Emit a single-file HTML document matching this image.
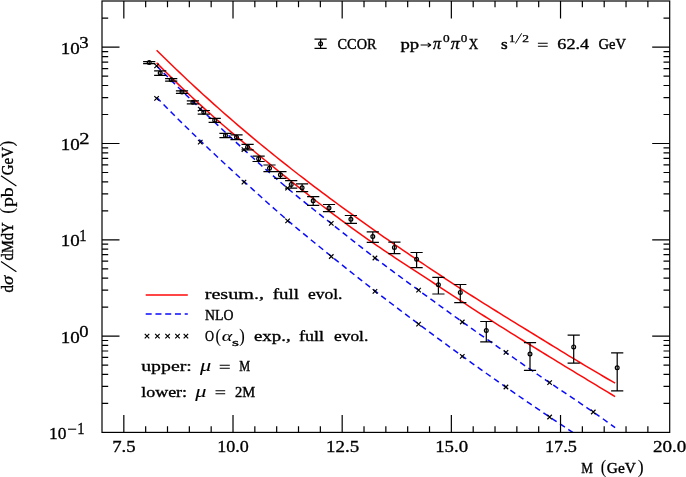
<!DOCTYPE html>
<html><head><meta charset="utf-8"><title>chart</title>
<style>html,body{margin:0;padding:0;background:#fff;}svg{display:block;}svg{will-change:transform;}text{font-kerning:none;}</style></head>
<body>
<svg width="686" height="477" viewBox="0 0 686 477">
<rect x="0" y="0" width="686" height="477" fill="#ffffff"/>
<clipPath id="cp"><rect x="102.00" y="1.00" width="567.70" height="431.40"/></clipPath>
<g clip-path="url(#cp)" fill="none" stroke-width="1.5">
<path d="M156.59 65.90L160.44 69.73L164.29 73.55L168.15 77.35L172.00 81.14L175.85 84.92L179.71 88.69L183.56 92.44L187.41 96.19L191.27 99.92L195.12 103.64L198.97 107.34L202.82 111.03L206.68 114.71L210.53 118.38L214.38 122.03L218.24 125.67L222.09 129.29L225.94 132.91L229.80 136.50L233.65 140.09L237.50 143.66L241.36 147.22L245.21 150.76L249.06 154.29L252.92 157.80L256.77 161.29L260.62 164.76L264.48 168.20L268.33 171.62L272.18 175.02L276.03 178.38L279.89 181.71L283.74 185.01L287.59 188.26L291.45 191.49L295.30 194.67L299.15 197.83L303.01 200.96L306.86 204.06L310.71 207.15L314.57 210.22L318.42 213.28L322.27 216.34L326.13 219.39L329.98 222.44L333.83 225.50L337.69 228.56L341.54 231.63L345.39 234.69L349.24 237.75L353.10 240.81L356.95 243.85L360.80 246.88L364.66 249.90L368.51 252.90L372.36 255.88L376.22 258.83L380.07 261.76L383.92 264.67L387.78 267.56L391.63 270.43L395.48 273.28L399.34 276.12L403.19 278.96L407.04 281.78L410.90 284.60L414.75 287.41L418.60 290.23L422.46 293.04L426.31 295.85L430.16 298.67L434.01 301.48L437.87 304.29L441.72 307.09L445.57 309.88L449.43 312.67L453.28 315.45L457.13 318.22L460.99 320.98L464.84 323.72L468.69 326.46L472.55 329.18L476.40 331.89L480.25 334.59L484.11 337.29L487.96 339.98L491.81 342.66L495.67 345.35L499.52 348.03L503.37 350.71L507.22 353.39L511.08 356.07L514.93 358.75L518.78 361.43L522.64 364.11L526.49 366.78L530.34 369.44L534.20 372.10L538.05 374.75L541.90 377.39L545.76 380.01L549.61 382.62L553.46 385.22L557.32 387.81L561.17 390.39L565.02 392.96L568.88 395.53L572.73 398.11L576.58 400.70L580.43 403.29L584.29 405.90L588.14 408.52L591.99 411.17L595.85 413.84L599.70 416.53L603.55 419.26L607.41 422.03L611.26 424.83L615.11 427.68" stroke="#0a0aff" stroke-dasharray="5.9 4.1"/>
<path d="M156.59 97.36L160.44 101.32L164.29 105.26L168.15 109.16L172.00 113.04L175.85 116.89L179.71 120.71L183.56 124.50L187.41 128.27L191.27 132.02L195.12 135.74L198.97 139.44L202.82 143.12L206.68 146.78L210.53 150.42L214.38 154.05L218.24 157.66L222.09 161.25L225.94 164.83L229.80 168.39L233.65 171.95L237.50 175.49L241.36 179.02L245.21 182.55L249.06 186.07L252.92 189.57L256.77 193.06L260.62 196.54L264.48 200.00L268.33 203.44L272.18 206.86L276.03 210.26L279.89 213.63L283.74 216.98L287.59 220.29L291.45 223.58L295.30 226.83L299.15 230.06L303.01 233.26L306.86 236.45L310.71 239.61L314.57 242.76L318.42 245.89L322.27 249.01L326.13 252.13L329.98 255.23L333.83 258.33L337.69 261.43L341.54 264.52L345.39 267.60L349.24 270.68L353.10 273.75L356.95 276.81L360.80 279.86L364.66 282.89L368.51 285.92L372.36 288.93L376.22 291.92L380.07 294.90L383.92 297.87L387.78 300.83L391.63 303.77L395.48 306.70L399.34 309.61L403.19 312.52L407.04 315.42L410.90 318.31L414.75 321.19L418.60 324.06L422.46 326.93L426.31 329.79L430.16 332.64L434.01 335.49L437.87 338.32L441.72 341.16L445.57 343.98L449.43 346.80L453.28 349.60L457.13 352.40L460.99 355.20L464.84 357.98L468.69 360.75L472.55 363.52L476.40 366.28L480.25 369.03L484.11 371.77L487.96 374.50L491.81 377.22L495.67 379.93L499.52 382.64L503.37 385.33L507.22 388.01L511.08 390.68L514.93 393.35L518.78 396.00L522.64 398.65L526.49 401.28L530.34 403.91L534.20 406.54L538.05 409.15L541.90 411.76L545.76 414.36L549.61 416.96L553.46 419.55L557.32 422.13L561.17 424.71L565.02 427.29L568.88 429.86L572.73 432.42L576.58 434.98L580.43 437.53L584.29 440.08L588.14 442.63L591.99 445.16L595.85 447.70L599.70 450.23L603.55 452.75L607.41 455.27L611.26 457.79L615.11 460.30" stroke="#0a0aff" stroke-dasharray="5.9 4.1"/>
<path d="M156.59 50.18L160.44 53.99L164.29 57.78L168.15 61.54L172.00 65.27L175.85 68.98L179.71 72.66L183.56 76.31L187.41 79.94L191.27 83.54L195.12 87.11L198.97 90.66L202.82 94.18L206.68 97.68L210.53 101.16L214.38 104.61L218.24 108.04L222.09 111.44L225.94 114.82L229.80 118.17L233.65 121.51L237.50 124.82L241.36 128.11L245.21 131.38L249.06 134.62L252.92 137.85L256.77 141.05L260.62 144.23L264.48 147.39L268.33 150.54L272.18 153.66L276.03 156.76L279.89 159.84L283.74 162.91L287.59 165.95L291.45 168.98L295.30 171.99L299.15 174.98L303.01 177.96L306.86 180.91L310.71 183.85L314.57 186.78L318.42 189.69L322.27 192.58L326.13 195.46L329.98 198.32L333.83 201.17L337.69 204.00L341.54 206.82L345.39 209.63L349.24 212.42L353.10 215.20L356.95 217.97L360.80 220.73L364.66 223.47L368.51 226.20L372.36 228.92L376.22 231.63L380.07 234.33L383.92 237.02L387.78 239.70L391.63 242.37L395.48 245.03L399.34 247.68L403.19 250.33L407.04 252.96L410.90 255.59L414.75 258.20L418.60 260.81L422.46 263.41L426.31 266.00L430.16 268.58L434.01 271.15L437.87 273.71L441.72 276.25L445.57 278.79L449.43 281.32L453.28 283.84L457.13 286.34L460.99 288.83L464.84 291.32L468.69 293.79L472.55 296.25L476.40 298.69L480.25 301.13L484.11 303.55L487.96 305.96L491.81 308.36L495.67 310.75L499.52 313.14L503.37 315.52L507.22 317.90L511.08 320.27L514.93 322.64L518.78 325.02L522.64 327.39L526.49 329.76L530.34 332.14L534.20 334.51L538.05 336.89L541.90 339.26L545.76 341.63L549.61 344.00L553.46 346.36L557.32 348.72L561.17 351.08L565.02 353.43L568.88 355.77L572.73 358.11L576.58 360.44L580.43 362.76L584.29 365.07L588.14 367.38L591.99 369.67L595.85 371.95L599.70 374.22L603.55 376.48L607.41 378.73L611.26 380.96L615.11 383.17" stroke="#ff0808"/>
<path d="M156.59 62.70L160.44 66.62L164.29 70.49L168.15 74.33L172.00 78.12L175.85 81.87L179.71 85.59L183.56 89.26L187.41 92.90L191.27 96.51L195.12 100.08L198.97 103.61L202.82 107.12L206.68 110.59L210.53 114.04L214.38 117.45L218.24 120.84L222.09 124.20L225.94 127.54L229.80 130.85L233.65 134.14L237.50 137.40L241.36 140.65L245.21 143.88L249.06 147.09L252.92 150.28L256.77 153.46L260.62 156.62L264.48 159.76L268.33 162.90L272.18 166.02L276.03 169.14L279.89 172.24L283.74 175.34L287.59 178.42L291.45 181.50L295.30 184.57L299.15 187.63L303.01 190.67L306.86 193.71L310.71 196.73L314.57 199.74L318.42 202.74L322.27 205.72L326.13 208.68L329.98 211.63L333.83 214.56L337.69 217.47L341.54 220.36L345.39 223.22L349.24 226.06L353.10 228.87L356.95 231.66L360.80 234.41L364.66 237.13L368.51 239.82L372.36 242.48L376.22 245.13L380.07 247.74L383.92 250.34L387.78 252.92L391.63 255.49L395.48 258.04L399.34 260.58L403.19 263.11L407.04 265.64L410.90 268.16L414.75 270.68L418.60 273.19L422.46 275.71L426.31 278.22L430.16 280.73L434.01 283.25L437.87 285.77L441.72 288.29L445.57 290.82L449.43 293.36L453.28 295.89L457.13 298.43L460.99 300.96L464.84 303.49L468.69 306.01L472.55 308.52L476.40 311.03L480.25 313.52L484.11 316.00L487.96 318.46L491.81 320.92L495.67 323.37L499.52 325.80L503.37 328.23L507.22 330.64L511.08 333.05L514.93 335.45L518.78 337.85L522.64 340.24L526.49 342.63L530.34 345.01L534.20 347.39L538.05 349.76L541.90 352.13L545.76 354.50L549.61 356.86L553.46 359.22L557.32 361.57L561.17 363.92L565.02 366.27L568.88 368.61L572.73 370.95L576.58 373.29L580.43 375.63L584.29 377.96L588.14 380.29L591.99 382.62L595.85 384.95L599.70 387.27L603.55 389.60L607.41 391.92L611.26 394.24L615.11 396.56" stroke="#ff0808"/>
</g>
<g stroke="#000" stroke-width="1.2" fill="none">
<path d="M154.34 63.65L158.84 68.15M154.34 68.15L158.84 63.65M198.01 106.85L202.51 111.35M198.01 111.35L202.51 106.85M241.68 147.45L246.18 151.95M241.68 151.95L246.18 147.45M285.34 185.95L289.84 190.45M285.34 190.45L289.84 185.95M329.01 221.05L333.51 225.55M329.01 225.55L333.51 221.05M372.68 255.75L377.18 260.25M372.68 260.25L377.18 255.75M416.35 287.85L420.85 292.35M416.35 292.35L420.85 287.85M460.02 319.75L464.52 324.25M460.02 324.25L464.52 319.75M503.69 350.15L508.19 354.65M503.69 354.65L508.19 350.15M547.36 380.45L551.86 384.95M547.36 384.95L551.86 380.45M591.03 409.75L595.53 414.25M591.03 414.25L595.53 409.75M154.34 96.05L158.84 100.55M154.34 100.55L158.84 96.05M198.01 139.85L202.51 144.35M198.01 144.35L202.51 139.85M241.68 179.85L246.18 184.35M241.68 184.35L246.18 179.85M285.34 218.55L289.84 223.05M285.34 223.05L289.84 218.55M329.01 254.25L333.51 258.75M329.01 258.75L333.51 254.25M372.68 289.15L377.18 293.65M372.68 293.65L377.18 289.15M416.35 321.85L420.85 326.35M416.35 326.35L420.85 321.85M460.02 354.05L464.52 358.55M460.02 358.55L464.52 354.05M503.69 384.75L508.19 389.25M503.69 389.25L508.19 384.75M547.36 414.75L551.86 419.25M547.36 419.25L551.86 414.75M144.75 333.85L149.25 338.35M144.75 338.35L149.25 333.85M155.15 333.85L159.65 338.35M155.15 338.35L159.65 333.85M165.35 333.85L169.85 338.35M165.35 338.35L169.85 333.85M175.25 333.85L179.75 338.35M175.25 338.35L179.75 333.85M183.65 333.85L188.15 338.35M183.65 338.35L188.15 333.85"/>
</g>
<g stroke="#000" stroke-width="1.22" fill="none">
<path d="M149.20 61.55V63.65M143.10 61.55H155.30M143.10 63.65H155.30M160.20 70.80V75.30M154.10 70.80H166.30M154.10 75.30H166.30M171.20 78.60V81.20M165.10 78.60H177.30M165.10 81.20H177.30M182.00 90.80V93.40M175.90 90.80H188.10M175.90 93.40H188.10M192.90 100.80V103.80M186.80 100.80H199.00M186.80 103.80H199.00M203.80 110.50V114.10M197.70 110.50H209.90M197.70 114.10H209.90M214.70 118.30V122.30M208.60 118.30H220.80M208.60 122.30H220.80M225.50 133.40V137.70M219.40 133.40H231.60M219.40 137.70H231.60M236.50 134.90V139.70M230.40 134.90H242.60M230.40 139.70H242.60M247.60 144.30V149.80M241.50 144.30H253.70M241.50 149.80H253.70M258.60 156.20V161.50M252.50 156.20H264.70M252.50 161.50H264.70M269.50 165.00V171.60M263.40 165.00H275.60M263.40 171.60H275.60M280.40 171.60V178.30M274.30 171.60H286.50M274.30 178.30H286.50M291.20 180.70V188.20M285.10 180.70H297.30M285.10 188.20H297.30M302.10 183.90V191.60M296.00 183.90H308.20M296.00 191.60H308.20M313.20 196.60V205.30M307.10 196.60H319.30M307.10 205.30H319.30M329.00 204.50V211.70M322.90 204.50H335.10M322.90 211.70H335.10M350.90 215.50V223.40M344.80 215.50H357.00M344.80 223.40H357.00M372.80 231.90V242.40M366.70 231.90H378.90M366.70 242.40H378.90M394.40 242.20V253.60M388.30 242.20H400.50M388.30 253.60H400.50M416.60 252.50V267.60M410.50 252.50H422.70M410.50 267.60H422.70M438.40 277.30V294.00M432.30 277.30H444.50M432.30 294.00H444.50M460.30 284.50V302.70M454.20 284.50H466.40M454.20 302.70H466.40M486.30 321.50V341.90M480.20 321.50H492.40M480.20 341.90H492.40M530.00 342.60V370.40M523.90 342.60H536.10M523.90 370.40H536.10M573.70 335.20V363.20M567.60 335.20H579.80M567.60 363.20H579.80M617.20 352.80V390.90M611.10 352.80H623.30M611.10 390.90H623.30M320.60 39.10V48.40M314.50 39.10H326.70M314.50 48.40H326.70"/>
<circle cx="149.20" cy="62.60" r="1.9"/>
<circle cx="160.20" cy="73.00" r="1.9"/>
<circle cx="171.20" cy="79.80" r="1.9"/>
<circle cx="182.00" cy="92.10" r="1.9"/>
<circle cx="192.90" cy="102.30" r="1.9"/>
<circle cx="203.80" cy="112.30" r="1.9"/>
<circle cx="214.70" cy="120.20" r="1.9"/>
<circle cx="225.50" cy="135.50" r="1.9"/>
<circle cx="236.50" cy="137.20" r="1.9"/>
<circle cx="247.60" cy="147.10" r="1.9"/>
<circle cx="258.60" cy="158.80" r="1.9"/>
<circle cx="269.50" cy="168.20" r="1.9"/>
<circle cx="280.40" cy="174.70" r="1.9"/>
<circle cx="291.20" cy="184.40" r="1.9"/>
<circle cx="302.10" cy="187.70" r="1.9"/>
<circle cx="313.20" cy="200.80" r="1.9"/>
<circle cx="329.00" cy="208.00" r="1.9"/>
<circle cx="350.90" cy="219.20" r="1.9"/>
<circle cx="372.80" cy="236.50" r="1.9"/>
<circle cx="394.40" cy="247.40" r="1.9"/>
<circle cx="416.60" cy="259.20" r="1.9"/>
<circle cx="438.40" cy="284.80" r="1.9"/>
<circle cx="460.30" cy="292.40" r="1.9"/>
<circle cx="486.30" cy="330.50" r="1.9"/>
<circle cx="530.00" cy="354.00" r="1.9"/>
<circle cx="573.70" cy="346.90" r="1.9"/>
<circle cx="617.20" cy="367.70" r="1.9"/>
<circle cx="320.60" cy="43.80" r="1.9"/>
</g>
<g stroke="#000" stroke-width="1.20" fill="none" stroke-linecap="butt">
<rect x="102.00" y="1.00" width="567.70" height="431.40"/>
<path d="M123.83 432.40V414.90M123.83 1.00V18.50M145.67 432.40V426.20M145.67 1.00V7.20M167.50 432.40V426.20M167.50 1.00V7.20M189.34 432.40V426.20M189.34 1.00V7.20M211.17 432.40V426.20M211.17 1.00V7.20M233.01 432.40V414.90M233.01 1.00V18.50M254.84 432.40V426.20M254.84 1.00V7.20M276.68 432.40V426.20M276.68 1.00V7.20M298.51 432.40V426.20M298.51 1.00V7.20M320.35 432.40V426.20M320.35 1.00V7.20M342.18 432.40V414.90M342.18 1.00V18.50M364.02 432.40V426.20M364.02 1.00V7.20M385.85 432.40V426.20M385.85 1.00V7.20M407.68 432.40V426.20M407.68 1.00V7.20M429.52 432.40V426.20M429.52 1.00V7.20M451.35 432.40V414.90M451.35 1.00V18.50M473.19 432.40V426.20M473.19 1.00V7.20M495.02 432.40V426.20M495.02 1.00V7.20M516.86 432.40V426.20M516.86 1.00V7.20M538.69 432.40V426.20M538.69 1.00V7.20M560.53 432.40V414.90M560.53 1.00V18.50M582.36 432.40V426.20M582.36 1.00V7.20M604.20 432.40V426.20M604.20 1.00V7.20M626.03 432.40V426.20M626.03 1.00V7.20M647.87 432.40V426.20M647.87 1.00V7.20M102.00 403.41H108.20M669.70 403.41H663.50M102.00 386.45H108.20M669.70 386.45H663.50M102.00 374.42H108.20M669.70 374.42H663.50M102.00 365.09H108.20M669.70 365.09H663.50M102.00 357.46H108.20M669.70 357.46H663.50M102.00 351.02H108.20M669.70 351.02H663.50M102.00 345.43H108.20M669.70 345.43H663.50M102.00 340.51H108.20M669.70 340.51H663.50M102.00 336.10H119.50M669.70 336.10H652.20M102.00 307.11H108.20M669.70 307.11H663.50M102.00 290.15H108.20M669.70 290.15H663.50M102.00 278.12H108.20M669.70 278.12H663.50M102.00 268.79H108.20M669.70 268.79H663.50M102.00 261.16H108.20M669.70 261.16H663.50M102.00 254.72H108.20M669.70 254.72H663.50M102.00 249.13H108.20M669.70 249.13H663.50M102.00 244.21H108.20M669.70 244.21H663.50M102.00 239.80H119.50M669.70 239.80H652.20M102.00 210.81H108.20M669.70 210.81H663.50M102.00 193.85H108.20M669.70 193.85H663.50M102.00 181.82H108.20M669.70 181.82H663.50M102.00 172.49H108.20M669.70 172.49H663.50M102.00 164.86H108.20M669.70 164.86H663.50M102.00 158.42H108.20M669.70 158.42H663.50M102.00 152.83H108.20M669.70 152.83H663.50M102.00 147.91H108.20M669.70 147.91H663.50M102.00 143.50H119.50M669.70 143.50H652.20M102.00 114.51H108.20M669.70 114.51H663.50M102.00 97.55H108.20M669.70 97.55H663.50M102.00 85.52H108.20M669.70 85.52H663.50M102.00 76.19H108.20M669.70 76.19H663.50M102.00 68.56H108.20M669.70 68.56H663.50M102.00 62.12H108.20M669.70 62.12H663.50M102.00 56.53H108.20M669.70 56.53H663.50M102.00 51.61H108.20M669.70 51.61H663.50M102.00 47.20H119.50M669.70 47.20H652.20M102.00 18.21H108.20M669.70 18.21H663.50"/>
</g>
<path d="M145.7 295.1H187.8" stroke="#ff0808" stroke-width="1.5" fill="none"/>
<path d="M145.7 313.9H187.8" stroke="#0a0aff" stroke-width="1.5" stroke-dasharray="6 3.75" fill="none"/>
<g font-family='"Liberation Serif", serif' fill="#000" stroke="#000">
<text x="112.29" y="452.40" textLength="23.36" lengthAdjust="spacingAndGlyphs" font-size="16.10" stroke-width="0.30">7.5</text>
<text x="217.27" y="452.40" textLength="31.55" lengthAdjust="spacingAndGlyphs" font-size="16.10" stroke-width="0.30">10.0</text>
<text x="325.99" y="452.40" textLength="33.17" lengthAdjust="spacingAndGlyphs" font-size="16.10" stroke-width="0.30">12.5</text>
<text x="435.20" y="452.40" textLength="32.85" lengthAdjust="spacingAndGlyphs" font-size="16.10" stroke-width="0.30">15.0</text>
<text x="544.95" y="452.40" textLength="31.88" lengthAdjust="spacingAndGlyphs" font-size="16.10" stroke-width="0.30">17.5</text>
<text x="652.94" y="452.40" textLength="33.32" lengthAdjust="spacingAndGlyphs" font-size="16.10" stroke-width="0.30">20.0</text>
<text x="60.89" y="53.80" textLength="18.97" lengthAdjust="spacingAndGlyphs" font-size="16.10" stroke-width="0.30">10</text>
<text x="79.25" y="48.10" textLength="9.40" lengthAdjust="spacingAndGlyphs" font-size="16.10" stroke-width="0.30">3</text>
<text x="60.89" y="150.10" textLength="18.97" lengthAdjust="spacingAndGlyphs" font-size="16.10" stroke-width="0.30">10</text>
<text x="79.28" y="144.40" textLength="10.25" lengthAdjust="spacingAndGlyphs" font-size="16.10" stroke-width="0.30">2</text>
<text x="60.89" y="246.40" textLength="18.97" lengthAdjust="spacingAndGlyphs" font-size="16.10" stroke-width="0.30">10</text>
<text x="79.35" y="240.70" textLength="7.32" lengthAdjust="spacingAndGlyphs" font-size="16.10" stroke-width="0.30">1</text>
<text x="60.89" y="342.70" textLength="18.97" lengthAdjust="spacingAndGlyphs" font-size="16.10" stroke-width="0.30">10</text>
<text x="79.36" y="337.00" textLength="9.29" lengthAdjust="spacingAndGlyphs" font-size="16.10" stroke-width="0.30">0</text>
<text x="49.12" y="439.00" textLength="17.37" lengthAdjust="spacingAndGlyphs" font-size="16.10" stroke-width="0.30">10</text>
<path d="M68.0 429.20H76.2" stroke-width="1.1" fill="none"/>
<text x="77.25" y="433.70" textLength="7.32" lengthAdjust="spacingAndGlyphs" font-size="16.10" stroke-width="0.30">1</text>
</g>
<g font-family='"Liberation Serif", serif' fill="#000" stroke="#000" stroke-width="0.3">
<text x="337.60" y="49.30" textLength="38.90" lengthAdjust="spacingAndGlyphs" font-size="15.50" stroke-width="0.40">CCOR</text>
<text x="400.50" y="49.00" textLength="18.70" lengthAdjust="spacingAndGlyphs" font-size="15.50" stroke-width="0.36">pp</text>
<path d="M420.6 45.0H430.4M427.7 42.9L430.7 45.0L427.7 47.1" stroke="#000" stroke-width="1.1" fill="none" stroke-linejoin="round"/>
<text x="432.92" y="49.10" textLength="8.19" lengthAdjust="spacingAndGlyphs" font-size="15.80" stroke-width="0.35" font-style="italic">π</text>
<text x="443.07" y="41.70" textLength="6.67" lengthAdjust="spacingAndGlyphs" font-size="9.80" stroke-width="0.25">0</text>
<text x="450.71" y="49.10" textLength="9.06" lengthAdjust="spacingAndGlyphs" font-size="15.80" stroke-width="0.35" font-style="italic">π</text>
<text x="460.88" y="41.70" textLength="6.55" lengthAdjust="spacingAndGlyphs" font-size="9.80" stroke-width="0.25">0</text>
<text x="468.70" y="49.30" textLength="9.50" lengthAdjust="spacingAndGlyphs" font-size="15.50" stroke-width="0.40">X</text>
<text x="500.90" y="49.30" textLength="6.70" lengthAdjust="spacingAndGlyphs" font-size="15.50" stroke-width="0.42">s</text>
<text x="508.92" y="41.60" textLength="6.34" lengthAdjust="spacingAndGlyphs" font-size="9.60" stroke-width="0.25">1</text>
<path d="M515.4 43.6L521.7 33.3" stroke-width="0.95" fill="none"/>
<text x="522.19" y="41.60" textLength="6.75" lengthAdjust="spacingAndGlyphs" font-size="9.60" stroke-width="0.25">2</text>
<path d="M537.9 43.20H547.7M537.9 46.30H547.7" stroke-width="1.05" fill="none"/>
<text x="557.30" y="49.30" textLength="31.80" lengthAdjust="spacingAndGlyphs" font-size="15.50" stroke-width="0.36">62.4</text>
<text x="598.40" y="49.30" textLength="27.60" lengthAdjust="spacingAndGlyphs" font-size="15.50" stroke-width="0.40">GeV</text>
<text x="204.70" y="298.90" textLength="59.30" lengthAdjust="spacingAndGlyphs" font-size="15.50" stroke-width="0.30">resum.,</text>
<text x="272.70" y="298.90" textLength="26.20" lengthAdjust="spacingAndGlyphs" font-size="15.50" stroke-width="0.36">full</text>
<text x="308.00" y="298.90" textLength="34.50" lengthAdjust="spacingAndGlyphs" font-size="15.50" stroke-width="0.36">evol.</text>
<text x="205.00" y="319.80" textLength="28.40" lengthAdjust="spacingAndGlyphs" font-size="15.50" stroke-width="0.40">NLO</text>
<text x="205.00" y="341.10" textLength="9.00" lengthAdjust="spacingAndGlyphs" font-size="15.50" stroke-width="0.40">O</text>
<text x="215.48" y="341.60" textLength="5.35" lengthAdjust="spacingAndGlyphs" font-size="18.30" stroke-width="0.10">(</text>
<text x="221.80" y="341.10" textLength="10.50" lengthAdjust="spacingAndGlyphs" font-size="15.50" stroke-width="0.08" font-style="italic">α</text>
<text x="232.09" y="345.90" textLength="6.92" lengthAdjust="spacingAndGlyphs" font-size="10.80" stroke-width="0.30">s</text>
<text x="239.20" y="341.60" textLength="5.51" lengthAdjust="spacingAndGlyphs" font-size="18.30" stroke-width="0.10">)</text>
<text x="254.00" y="341.30" textLength="36.60" lengthAdjust="spacingAndGlyphs" font-size="15.50" stroke-width="0.36">exp.,</text>
<text x="298.90" y="341.30" textLength="25.00" lengthAdjust="spacingAndGlyphs" font-size="15.50" stroke-width="0.36">full</text>
<text x="334.00" y="341.30" textLength="34.30" lengthAdjust="spacingAndGlyphs" font-size="15.50" stroke-width="0.36">evol.</text>
<text x="141.20" y="371.00" textLength="50.60" lengthAdjust="spacingAndGlyphs" font-size="15.50" stroke-width="0.30">upper:</text>
<text x="200.00" y="371.00" textLength="11.20" lengthAdjust="spacingAndGlyphs" font-size="17.30" stroke-width="0.08" font-style="italic">μ</text>
<path d="M219.7 365.20H229.8M219.7 368.30H229.8" stroke-width="1.05" fill="none"/>
<text x="239.20" y="371.00" textLength="10.90" lengthAdjust="spacingAndGlyphs" font-size="15.50" stroke-width="0.40">M</text>
<text x="141.20" y="396.60" textLength="45.90" lengthAdjust="spacingAndGlyphs" font-size="15.50" stroke-width="0.36">lower:</text>
<text x="195.30" y="396.60" textLength="11.20" lengthAdjust="spacingAndGlyphs" font-size="17.30" stroke-width="0.08" font-style="italic">μ</text>
<path d="M215.5 390.70H225.2M215.5 393.80H225.2" stroke-width="1.05" fill="none"/>
<text x="235.00" y="396.60" textLength="20.20" lengthAdjust="spacingAndGlyphs" font-size="15.50" stroke-width="0.40">2M</text>
<text x="581.20" y="473.00" textLength="11.60" lengthAdjust="spacingAndGlyphs" font-size="15.50" stroke-width="0.40">M</text>
<text x="600.76" y="472.90" textLength="5.49" lengthAdjust="spacingAndGlyphs" font-size="18.30" stroke-width="0.10">(</text>
<text x="606.79" y="473.00" textLength="29.02" lengthAdjust="spacingAndGlyphs" font-size="15.50" stroke-width="0.40">GeV</text>
<text x="637.67" y="472.90" textLength="5.89" lengthAdjust="spacingAndGlyphs" font-size="18.30" stroke-width="0.10">)</text>
<g transform="translate(13.2 292.5) rotate(-90)">
<text x="0.00" y="0.00" textLength="7.40" lengthAdjust="spacingAndGlyphs" font-size="16.20" stroke-width="0.40">d</text>
<text x="7.64" y="0.00" textLength="9.17" lengthAdjust="spacingAndGlyphs" font-size="16.80" stroke-width="0.30" font-style="italic">σ</text>
<path d="M20.7 3.2L31.1 -12.2M106.4 3.2L116.7 -12.2" stroke="#000" stroke-width="1.15" fill="none"/>
<text x="31.90" y="0.00" textLength="38.30" lengthAdjust="spacingAndGlyphs" font-size="16.20" stroke-width="0.40">dMdY</text>
<text x="78.82" y="-0.50" textLength="5.75" lengthAdjust="spacingAndGlyphs" font-size="18.30" stroke-width="0.10">(</text>
<text x="85.40" y="0.00" textLength="19.89" lengthAdjust="spacingAndGlyphs" font-size="16.00" stroke-width="0.30">pb</text>
<text x="117.20" y="0.00" textLength="28.30" lengthAdjust="spacingAndGlyphs" font-size="16.00" stroke-width="0.40">GeV</text>
<text x="146.09" y="-0.50" textLength="5.64" lengthAdjust="spacingAndGlyphs" font-size="18.30" stroke-width="0.10">)</text>
</g>
</g>
</svg>
</body></html>
